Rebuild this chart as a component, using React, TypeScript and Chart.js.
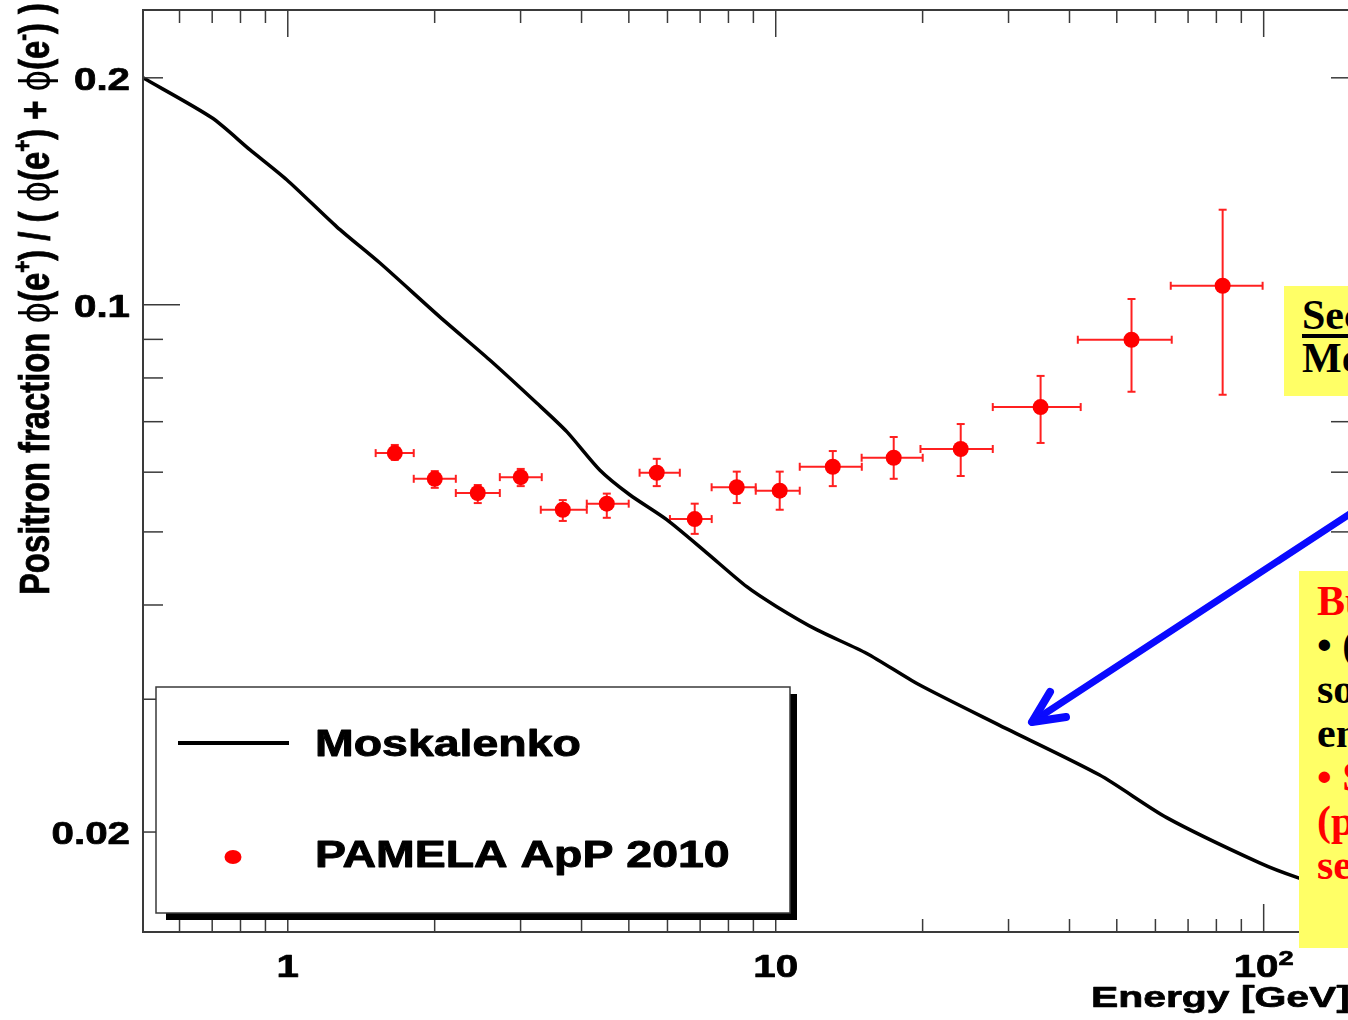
import React, { useEffect, useRef } from "react";
import { Chart, registerables } from "chart.js";

Chart.register(...registerables);

// ---------- data ----------
// Moskalenko (secondary production) positron fraction curve
const curveEnergy = [0.505, 0.699, 0.836, 0.995, 1.26, 1.543, 2.049, 2.594, 3.237, 3.73, 4.358, 5.021, 5.978, 7.222, 8.722, 10.05, 12.13, 15.37, 19.6, 28.77, 46.12, 63.27, 98.1, 117.4, 145];
const curveFraction = [0.2, 0.177, 0.1606, 0.1465, 0.1269, 0.1137, 0.0964, 0.0845, 0.0741, 0.0679, 0.0604, 0.056, 0.0519, 0.0469, 0.0423, 0.0398, 0.0371, 0.0345, 0.0314, 0.0277, 0.0238, 0.0209, 0.0182, 0.0174, 0.0167];

// PAMELA ApP 2010 positron fraction
const pamelaEnergy = [1.657, 2.001, 2.451, 3.002, 3.661, 4.506, 5.704, 6.823, 8.32, 10.19, 13.09, 17.45, 23.94, 34.9, 53.6, 82.4];
const pamelaEnergyLow = [1.514, 1.812, 2.21, 2.72, 3.3, 4.1, 5.26, 6.07, 7.39, 9.1, 11.2, 15.0, 19.8, 27.85, 41.6, 64.5];
const pamelaEnergyHigh = [1.812, 2.21, 2.72, 3.315, 4.1, 4.997, 6.36, 7.393, 9.1, 11.2, 15.01, 20.01, 27.85, 42.17, 64.8, 99.5];
const pamelaFraction = [0.0636, 0.0588, 0.0563, 0.0591, 0.0535, 0.0545, 0.0599, 0.052, 0.0573, 0.0567, 0.061, 0.0627, 0.0644, 0.0732, 0.0899, 0.106];
const pamelaFractionLow = [0.0623, 0.0572, 0.0546, 0.0575, 0.0517, 0.0522, 0.0575, 0.0497, 0.0546, 0.0535, 0.0575, 0.0588, 0.0593, 0.0656, 0.0767, 0.076];
const pamelaFractionHigh = [0.0652, 0.0602, 0.0577, 0.0606, 0.0551, 0.0562, 0.0625, 0.0545, 0.0601, 0.0601, 0.064, 0.0668, 0.0695, 0.0805, 0.1018, 0.1337];

// axes
const X_MIN = 0.505;
const X_MAX = 151;
const Y_MIN = 0.01474;
const Y_MAX = 0.246;
const xMinorTicks = [0.6, 0.7, 0.8, 0.9, 2, 3, 4, 5, 6, 7, 8, 9, 20, 30, 40, 50, 60, 70, 80, 90];
const xMajorTicks = [1, 10, 100];
const xTickBase = ["1", "10", "10"];
const xTickSup = ["", "", "2"];
const yMinorTicks = [0.02, 0.03, 0.04, 0.05, 0.06, 0.07, 0.08, 0.09, 0.2];
const yMajorTicks = [0.1];
const yLabelValues = [0.02, 0.1, 0.2];
const yTickLabels = ["0.02", "0.1", "0.2"];

const legendLabels = ["Moskalenko", "PAMELA ApP 2010"];
const xTitle = "Energy [GeV]";
const yTitlePieces: { t: string; sup?: boolean; sym?: boolean }[] = [
  { t: "Positron fraction " },
  { t: "ϕ", sym: true },
  { t: "(e" },
  { t: "+", sup: true },
  { t: ") / ( " },
  { t: "ϕ", sym: true },
  { t: "(e" },
  { t: "+", sup: true },
  { t: ") + " },
  { t: "ϕ", sym: true },
  { t: "(e" },
  { t: "-", sup: true },
  { t: ") )" },
];

// ---------- styling ----------
const SANS = '"Liberation Sans", Arial, Helvetica, sans-serif';
const FRAME = "#3a3a3a";
const RED = "#ff0000";
const SX = 1.28;

function sText(
  ctx: CanvasRenderingContext2D,
  text: string,
  x: number,
  y: number,
  align: CanvasTextAlign,
  font: string,
  color: string,
  sx = SX,
  heavy = 0.7
) {
  ctx.save();
  ctx.font = font;
  ctx.fillStyle = color;
  ctx.strokeStyle = color;
  ctx.lineWidth = heavy;
  ctx.lineJoin = "round";
  ctx.textAlign = align;
  ctx.textBaseline = "alphabetic";
  ctx.translate(x, y);
  ctx.scale(sx, 1);
  ctx.fillText(text, 0, 0);
  if (heavy > 0) ctx.strokeText(text, 0, 0);
  ctx.restore();
}

function line(ctx: CanvasRenderingContext2D, x0: number, y0: number, x1: number, y1: number) {
  ctx.beginPath();
  ctx.moveTo(x0, y0);
  ctx.lineTo(x1, y1);
  ctx.stroke();
}

const decorPlugin = {
  id: "decor",
  beforeDatasetsDraw(chart: any) {
    const { ctx } = chart;
    const xs = chart.scales.x;
    const ys = chart.scales.y;
    ctx.save();
    ctx.strokeStyle = "#ff2020";
    ctx.lineWidth = 2;
    const cap = 4;
    for (let i = 0; i < pamelaEnergy.length; i++) {
      const px = xs.getPixelForValue(pamelaEnergy[i]);
      const py = ys.getPixelForValue(pamelaFraction[i]);
      const x0 = xs.getPixelForValue(pamelaEnergyLow[i]);
      const x1 = xs.getPixelForValue(pamelaEnergyHigh[i]);
      const y0 = ys.getPixelForValue(pamelaFractionLow[i]);
      const y1 = ys.getPixelForValue(pamelaFractionHigh[i]);
      line(ctx, x0, py, x1, py);
      line(ctx, x0, py - cap, x0, py + cap);
      line(ctx, x1, py - cap, x1, py + cap);
      line(ctx, px, y0, px, y1);
      line(ctx, px - cap, y0, px + cap, y0);
      line(ctx, px - cap, y1, px + cap, y1);
    }
    ctx.restore();
  },
  afterDraw(chart: any) {
    const { ctx, chartArea } = chart;
    const xs = chart.scales.x;
    const ys = chart.scales.y;
    const { left, right, top, bottom } = chartArea;
    ctx.save();

    // frame
    ctx.strokeStyle = FRAME;
    ctx.lineWidth = 2;
    ctx.strokeRect(left, top, right - left, bottom - top);

    // ticks
    ctx.lineWidth = 1.5;
    xMinorTicks.forEach((v) => {
      const p = xs.getPixelForValue(v);
      line(ctx, p, bottom, p, bottom - 13);
      line(ctx, p, top, p, top + 13);
    });
    xMajorTicks.forEach((v) => {
      const p = xs.getPixelForValue(v);
      line(ctx, p, bottom, p, bottom - 28);
      line(ctx, p, top, p, top + 27);
    });
    yMinorTicks.forEach((v) => {
      const p = ys.getPixelForValue(v);
      line(ctx, left, p, left + 20, p);
      line(ctx, right, p, right - 20, p);
    });
    yMajorTicks.forEach((v) => {
      const p = ys.getPixelForValue(v);
      line(ctx, left, p, left + 37, p);
      line(ctx, right, p, right - 37, p);
    });

    // tick labels
    const tickFont = `bold 31px ${SANS}`;
    yLabelValues.forEach((v, i) => {
      const p = ys.getPixelForValue(v);
      sText(ctx, yTickLabels[i], left - 13, p + 12, "right", tickFont, "#000", 1.3);
    });
    xMajorTicks.forEach((v, i) => {
      const p = xs.getPixelForValue(v);
      ctx.font = tickFont;
      const wb = ctx.measureText(xTickBase[i]).width * 1.3;
      ctx.font = `bold 21px ${SANS}`;
      const ws = xTickSup[i] ? ctx.measureText(xTickSup[i]).width * 1.3 : 0;
      const x0 = p - (wb + ws) / 2;
      sText(ctx, xTickBase[i], x0, bottom + 45, "left", tickFont, "#000", 1.3);
      if (xTickSup[i]) sText(ctx, xTickSup[i], x0 + wb, bottom + 33, "left", `bold 21px ${SANS}`, "#000", 1.3);
    });

    // x title
    sText(ctx, xTitle, right - 1, bottom + 75, "right", `bold 29px ${SANS}`, "#000", 1.41);

    // y title (rotated)
    ctx.save();
    const mainFont = `bold 32px ${SANS}`;
    const supFont = `bold 20px ${SANS}`;
    const symFont = `32px "DejaVu Sans", sans-serif`;
    let total = 0;
    yTitlePieces.forEach((pc) => {
      ctx.font = pc.sup ? supFont : pc.sym ? symFont : mainFont;
      total += ctx.measureText(pc.t).width;
    });
    const k = 592 / total;
    ctx.translate(49, 595);
    ctx.rotate(-Math.PI / 2);
    ctx.scale(k, 1.3);
    ctx.fillStyle = "#000";
    ctx.strokeStyle = "#000";
    ctx.lineWidth = 0.6;
    ctx.textBaseline = "alphabetic";
    ctx.textAlign = "left";
    let cx = 0;
    yTitlePieces.forEach((pc) => {
      ctx.font = pc.sup ? supFont : pc.sym ? symFont : mainFont;
      ctx.fillText(pc.t, cx, pc.sup ? -14 : 0);
      if (!pc.sym) ctx.strokeText(pc.t, cx, pc.sup ? -14 : 0);
      cx += ctx.measureText(pc.t).width;
    });
    ctx.restore();

    // legend box
    const lx = left + 13;
    const ly = top + 677;
    const lw = 634;
    const lh = 226;
    ctx.fillStyle = "#000";
    ctx.fillRect(lx + lw, ly + 7, 7, lh);
    ctx.fillRect(lx + 10, ly + lh, lw - 3, 7);
    ctx.fillStyle = "#fff";
    ctx.fillRect(lx, ly, lw, lh);
    ctx.strokeStyle = FRAME;
    ctx.lineWidth = 1.5;
    ctx.strokeRect(lx, ly, lw, lh);

    ctx.strokeStyle = "#000";
    ctx.lineWidth = 4;
    line(ctx, lx + 22, ly + 56, lx + 133, ly + 56);
    ctx.fillStyle = RED;
    ctx.beginPath();
    ctx.ellipse(lx + 77, ly + 170, 8.5, 7, 0, 0, Math.PI * 2);
    ctx.fill();
    const legFont = `bold 36px ${SANS}`;
    sText(ctx, legendLabels[0], lx + 159, ly + 69, "left", legFont, "#000", 1.29, 0.9);
    sText(ctx, legendLabels[1], lx + 159, ly + 180, "left", legFont, "#000", 1.29, 0.9);

    ctx.restore();
  },
};

export default function App() {
  const ref = useRef<HTMLCanvasElement>(null);

  useEffect(() => {
    const canvas = ref.current!;
    const chart = new Chart(canvas, {
      type: "scatter",
      data: {
        datasets: [
          {
            label: legendLabels[0],
            data: curveEnergy.map((e, i) => ({ x: e, y: curveFraction[i] })),
            showLine: true,
            borderColor: "#000",
            borderWidth: 3.5,
            pointRadius: 0,
            tension: 0.25,
            fill: false,
          },
          {
            label: legendLabels[1],
            data: pamelaEnergy.map((e, i) => ({ x: e, y: pamelaFraction[i] })),
            showLine: false,
            pointRadius: 8,
            pointBorderWidth: 0,
            backgroundColor: RED,
            borderColor: RED,
          },
        ],
      },
      options: {
        responsive: false,
        animation: false,
        devicePixelRatio: 1,
        layout: { padding: { left: 143, top: 10, right: 1400 - 1351, bottom: 1020 - 932 } },
        plugins: { legend: { display: false }, tooltip: { enabled: false } },
        scales: {
          x: { type: "logarithmic", min: X_MIN, max: X_MAX, display: false },
          y: { type: "logarithmic", min: Y_MIN, max: Y_MAX, display: false },
        },
      },
      plugins: [decorPlugin],
    });
    return () => chart.destroy();
  }, []);

  const boxFont = '"Liberation Serif", "Times New Roman", serif';

  return (
    <div
      style={{
        position: "fixed",
        left: 0,
        top: 0,
        width: 1348,
        height: 1020,
        overflow: "hidden",
        background: "#fff",
      }}
    >
      <canvas ref={ref} width={1400} height={1020} style={{ position: "absolute", left: 0, top: 0, width: 1400, height: 1020 }} />
      <svg width={1400} height={1020} style={{ position: "absolute", left: 0, top: 0 }}>
        <line x1={1032} y1={722} x2={1420} y2={468} stroke="#0a0aff" strokeWidth={7} strokeLinecap="round" />
        <polyline points="1050,692 1032,722 1066,717" fill="none" stroke="#0a0aff" strokeWidth={8} strokeLinecap="round" strokeLinejoin="round" />
      </svg>
      <div
        style={{
          position: "absolute",
          left: 1284,
          top: 286,
          width: 260,
          height: 110,
          background: "#ffff66",
          boxSizing: "border-box",
          padding: "8px 0 0 18px",
          fontFamily: boxFont,
          fontWeight: "bold",
          fontSize: 42,
          lineHeight: "43px",
          whiteSpace: "nowrap",
          color: "#000",
        }}
      >
        <div style={{ textDecoration: "underline", textDecorationThickness: "4px", textUnderlineOffset: "5px" }}>Secondary production</div>
        <div>Moskalenko &amp; Strong</div>
      </div>
      <div
        style={{
          position: "absolute",
          left: 1299,
          top: 571,
          width: 400,
          height: 377,
          background: "#ffff66",
          boxSizing: "border-box",
          padding: "8px 0 0 18px",
          fontFamily: boxFont,
          fontWeight: "bold",
          fontSize: 42,
          lineHeight: "44px",
          whiteSpace: "nowrap",
        }}
      >
        <div style={{ color: "#ff0000" }}>But:</div>
        <div style={{ color: "#000" }}>• (Astro)physical</div>
        <div style={{ color: "#000" }}>source of high</div>
        <div style={{ color: "#000" }}>energy positrons?</div>
        <div style={{ color: "#ff0000" }}>• Systematics?</div>
        <div style={{ color: "#ff0000" }}>(proton</div>
        <div style={{ color: "#ff0000" }}>secondary)</div>
      </div>
    </div>
  );
}
